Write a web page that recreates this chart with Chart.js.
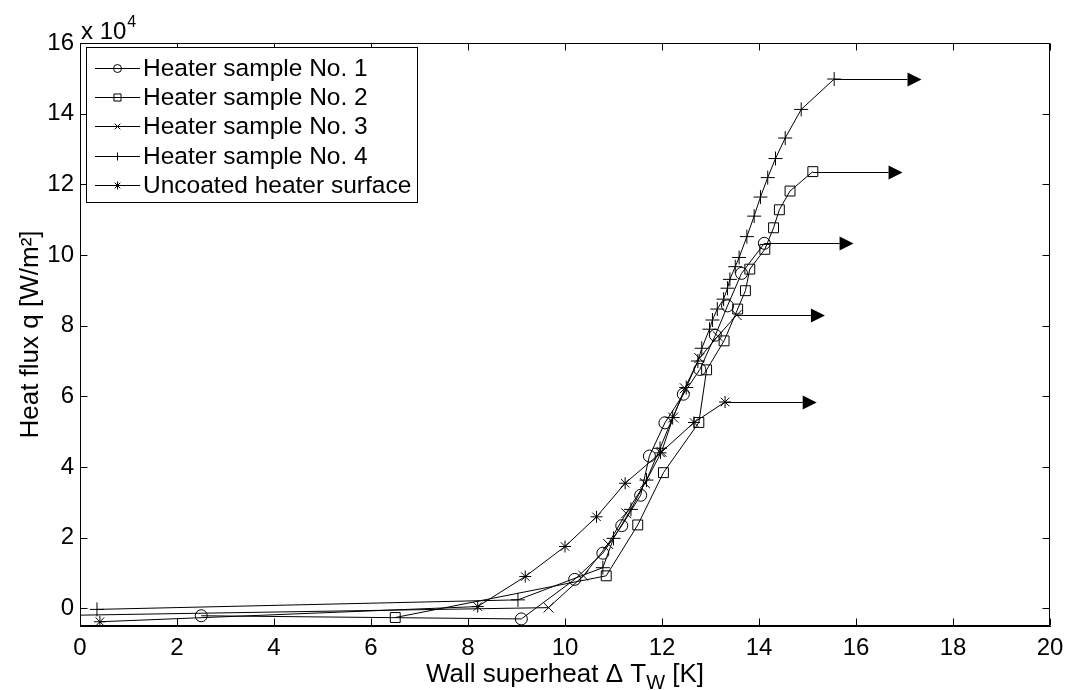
<!DOCTYPE html>
<html>
<head>
<meta charset="utf-8">
<script src="https://cdn.jsdelivr.net/npm/chart.js@4/dist/chart.umd.min.js"></script>
<style>
html,body{margin:0;padding:0;background:#fff;}
canvas{display:block;}
</style>
</head>
<body>
<canvas id="c" width="1067" height="690"></canvas>
<script>
// ---- data (heat flux in units of 10^4 W/m^2, wall superheat in K) ----
const seriesNames = ["Heater sample No. 1","Heater sample No. 2","Heater sample No. 3","Heater sample No. 4","Uncoated heater surface"];

const s1_dT = [2.5, 9.1, 10.2, 10.78, 11.17, 11.56, 11.74, 12.06, 12.44, 12.78, 13.10, 13.35, 13.64, 14.11];
const s1_q  = [-0.21, -0.30, 0.82, 1.56, 2.34, 3.20, 4.31, 5.25, 6.06, 6.76, 7.73, 8.56, 9.48, 10.33];

const s2_dT = [6.5, 10.85, 11.5, 12.03, 12.76, 12.92, 13.28, 13.56, 13.72, 13.81, 14.12, 14.30, 14.42, 14.64, 15.11];
const s2_q  = [-0.26, 0.92, 2.36, 3.84, 5.26, 6.75, 7.57, 8.47, 8.99, 9.60, 10.16, 10.77, 11.28, 11.81, 12.36];

const s3_dT = [-0.3, 9.66, 10.38, 10.89, 11.26, 11.65, 11.99, 12.23, 12.47, 12.77, 13.15, 13.54];
const s3_q  = [-0.20, 0.02, 0.92, 1.82, 2.69, 3.54, 4.43, 5.40, 6.23, 7.08, 7.70, 8.30];

const s4_dT = [0.35, 9.03, 10.78, 11.0, 11.36, 11.68, 11.96, 12.22, 12.5, 12.74, 12.82, 12.98, 13.04, 13.14, 13.27, 13.35, 13.40, 13.51, 13.59, 13.75, 13.90, 14.03, 14.18, 14.34, 14.54, 14.87, 15.55];
const s4_q  = [-0.03, 0.24, 1.15, 1.98, 2.80, 3.63, 4.53, 5.40, 6.25, 7.00, 7.36, 7.90, 8.16, 8.47, 8.75, 9.06, 9.31, 9.67, 9.93, 10.52, 11.10, 11.64, 12.19, 12.73, 13.31, 14.12, 14.98];

const un_dT = [0.41, 8.2, 9.18, 10.0, 10.65, 11.24, 11.97, 12.66, 13.30];
const un_q  = [-0.38, 0.05, 0.90, 1.75, 2.59, 3.54, 4.40, 5.26, 5.84];

// arrow tips (wall superheat) drawn from each series' last point
const arrowEnd_dT = [15.95, 16.96, 15.36, 17.35, 15.19];

const xTicks = [0, 2, 4, 6, 8, 10, 12, 14, 16, 18, 20];
const yTicks = [0, 2, 4, 6, 8, 10, 12, 14, 16];

// ---- build ----
const FONT = "'Liberation Sans', Arial, Helvetica, sans-serif";
const FS = 24;
const pairs = (xs, ys) => xs.map((x, i) => ({x: x, y: ys[i]}));
const styles = [
  {pointStyle: 'circle', radius: 6},
  {pointStyle: 'rect', radius: 7},
  {pointStyle: 'crossRot', radius: 7},
  {pointStyle: 'cross', radius: 7},
  {pointStyle: 'star', radius: 6}
];
const allData = [pairs(s1_dT, s1_q), pairs(s2_dT, s2_q), pairs(s3_dT, s3_q), pairs(s4_dT, s4_q), pairs(un_dT, un_q)];

const datasets = allData.map((d, i) => ({
  label: seriesNames[i],
  data: d,
  showLine: true,
  borderColor: '#000',
  borderWidth: 1,
  backgroundColor: 'rgba(0,0,0,0)',
  pointStyle: styles[i].pointStyle,
  pointRadius: styles[i].radius,
  pointBorderColor: '#000',
  pointBackgroundColor: 'rgba(0,0,0,0)',
  pointBorderWidth: 1,
  tension: 0
}));

function drawMarker(ctx, style, r, x, y) {
  ctx.beginPath();
  if (style === 'circle') {
    ctx.arc(x, y, r, 0, Math.PI * 2);
  } else if (style === 'rect') {
    const s = r * Math.SQRT1_2;
    ctx.rect(x - s, y - s, 2 * s, 2 * s);
  } else if (style === 'crossRot' || style === 'star') {
    const s = r * Math.SQRT1_2;
    ctx.moveTo(x - s, y - s); ctx.lineTo(x + s, y + s);
    ctx.moveTo(x - s, y + s); ctx.lineTo(x + s, y - s);
  }
  if (style === 'cross' || style === 'star') {
    ctx.moveTo(x - r, y); ctx.lineTo(x + r, y);
    ctx.moveTo(x, y - r); ctx.lineTo(x, y + r);
  }
  ctx.stroke();
}

const decor = {
  id: 'decor',
  afterDraw(chart) {
    const ctx = chart.ctx;
    const xs = chart.scales.x, ys = chart.scales.y;
    const a = chart.chartArea;
    ctx.save();
    ctx.strokeStyle = '#000';
    ctx.fillStyle = '#000';
    ctx.lineWidth = 1;
    // frame
    const L = Math.round(a.left) + 0.5, R = Math.round(a.right) - 0.5;
    const T = Math.round(a.top) + 0.5, B = Math.round(a.bottom) - 0.5;
    ctx.strokeRect(L, T, R - L, B - T);
    // inward tick marks on all sides
    const tl = 7;
    ctx.beginPath();
    xTicks.forEach(v => {
      const px = Math.round(xs.getPixelForValue(v)) + 0.5;
      ctx.moveTo(px, B); ctx.lineTo(px, B - tl);
      ctx.moveTo(px, T); ctx.lineTo(px, T + tl);
    });
    yTicks.forEach(v => {
      const py = Math.round(ys.getPixelForValue(v)) + 0.5;
      ctx.moveTo(L, py); ctx.lineTo(L + tl, py);
      ctx.moveTo(R, py); ctx.lineTo(R - tl, py);
    });
    ctx.stroke();

    // arrows
    allData.forEach((d, i) => {
      const last = d[d.length - 1];
      const x0 = xs.getPixelForValue(last.x);
      const y0 = Math.round(ys.getPixelForValue(last.y)) + 0.5;
      const x1 = xs.getPixelForValue(arrowEnd_dT[i]);
      const headL = 14, headH = 7;
      ctx.beginPath();
      ctx.moveTo(x0, y0); ctx.lineTo(x1 - headL, y0);
      ctx.stroke();
      ctx.beginPath();
      ctx.moveTo(x1, y0);
      ctx.lineTo(x1 - headL, y0 - headH);
      ctx.lineTo(x1 - headL, y0 + headH);
      ctx.closePath();
      ctx.fill();
    });

    // legend
    const lx = 86.5, ly = 47.5, lw = 331, lh = 155;
    ctx.fillStyle = '#fff';
    ctx.fillRect(lx, ly, lw, lh);
    ctx.strokeRect(lx, ly, lw, lh);
    ctx.fillStyle = '#000';
    ctx.font = '24.5px ' + FONT;
    ctx.textBaseline = 'middle';
    ctx.textAlign = 'left';
    seriesNames.forEach((n, i) => {
      const cy = Math.round(68 + i * 29.2) + 0.5;
      ctx.beginPath();
      ctx.moveTo(95, cy); ctx.lineTo(140, cy);
      ctx.stroke();
      drawMarker(ctx, styles[i].pointStyle, styles[i].pointStyle === 'rect' ? 5 : 4, 117.5, cy);
      ctx.fillText(n, 143, cy + 1);
    });

    // exponent label
    ctx.font = FS + 'px ' + FONT;
    ctx.textBaseline = 'alphabetic';
    ctx.fillText('x 10', 81, 39);
    const w10 = ctx.measureText('x 10').width;
    ctx.font = '16px ' + FONT;
    ctx.fillText('4', 81 + w10 + 1, 27);

    // x title with subscript
    const TF = 26, SF = 20;
    const p1 = 'Wall superheat \u0394 T', p3 = ' [K]';
    ctx.font = TF + 'px ' + FONT; const w1 = ctx.measureText(p1).width;
    ctx.font = SF + 'px ' + FONT; const w2 = ctx.measureText('W').width;
    ctx.font = TF + 'px ' + FONT; const w3 = ctx.measureText(p3).width;
    const tot = w1 + w2 + w3;
    const cx = (a.left + a.right) / 2;
    const sx = cx - tot / 2;
    const base = 682;
    ctx.font = TF + 'px ' + FONT; ctx.fillText(p1, sx, base);
    ctx.font = SF + 'px ' + FONT; ctx.fillText('W', sx + w1, base + 7);
    ctx.font = TF + 'px ' + FONT; ctx.fillText(p3, sx + w1 + w2, base);

    // y title
    ctx.save();
    ctx.translate(31, (a.top + a.bottom) / 2);
    ctx.rotate(-Math.PI / 2);
    ctx.textAlign = 'center';
    ctx.textBaseline = 'middle';
    ctx.font = TF + 'px ' + FONT;
    ctx.fillText('Heat flux q [W/m\u00B2]', 0, 0);
    ctx.restore();

    ctx.restore();
  }
};

new Chart(document.getElementById('c'), {
  type: 'scatter',
  data: { datasets: datasets },
  options: {
    responsive: false,
    animation: false,
    devicePixelRatio: 1,
    layout: { padding: { left: 0, right: 17, top: 43, bottom: 0 } },
    plugins: { legend: { display: false }, tooltip: { enabled: false } },
    scales: {
      x: {
        type: 'linear', min: 0, max: 20,
        afterBuildTicks: s => { s.ticks = xTicks.map(v => ({value: v})); },
        afterFit: s => { s.height = 64; },
        grid: { display: false },
        border: { display: true, color: '#000' },
        ticks: { color: '#000', font: { family: FONT, size: FS }, padding: 0, maxRotation: 0,
                 callback: v => String(v) }
      },
      y: {
        type: 'linear', min: -0.5, max: 16,
        afterBuildTicks: s => { s.ticks = yTicks.map(v => ({value: v})); },
        afterFit: s => { s.width = 80; },
        grid: { display: false },
        border: { display: true, color: '#000' },
        ticks: { color: '#000', font: { family: FONT, size: FS }, padding: -2,
                 callback: v => String(v) }
      }
    }
  },
  plugins: [decor]
});
</script>
</body>
</html>
